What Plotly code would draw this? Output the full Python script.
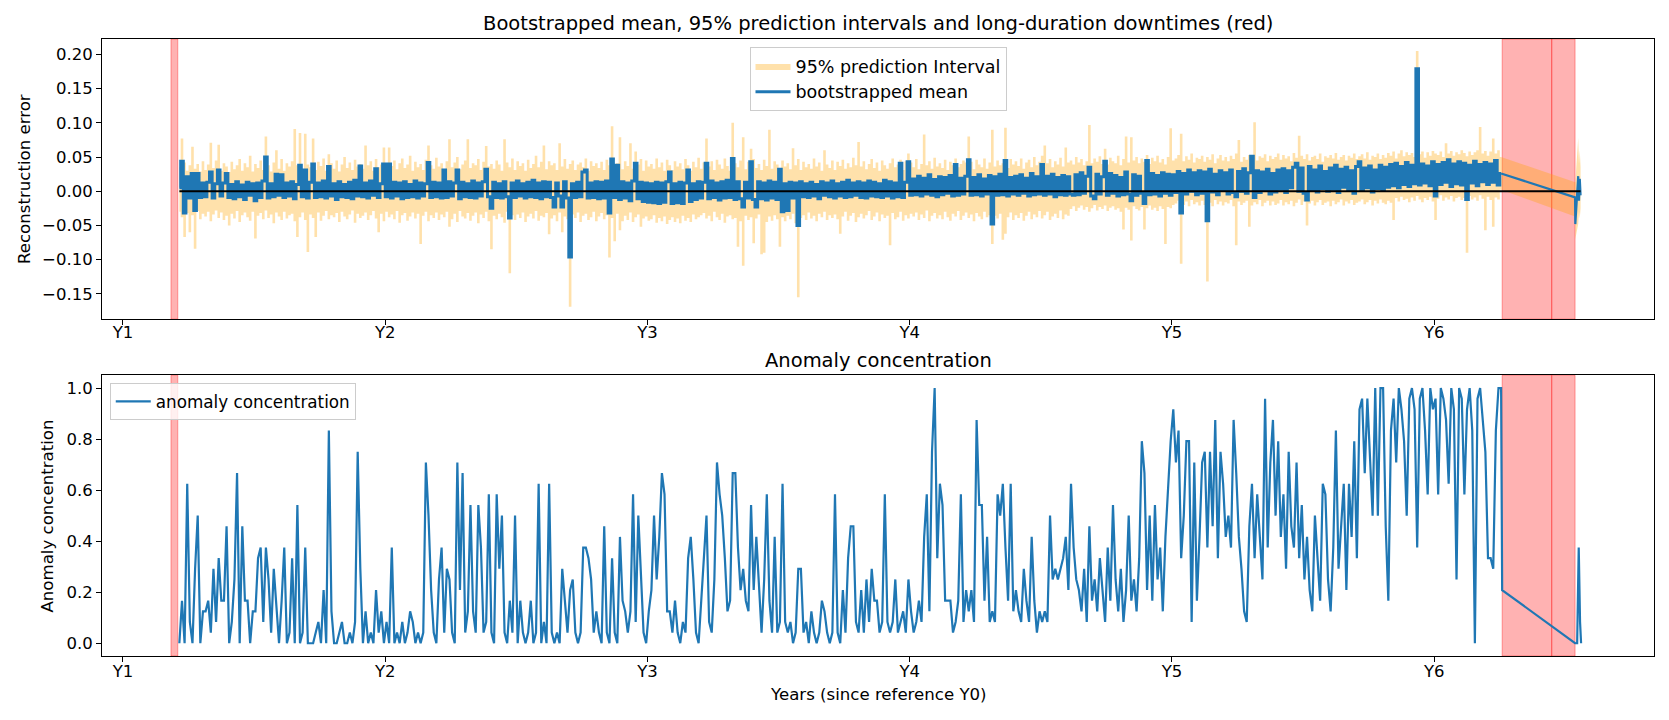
import numpy as np
import plotly.graph_objects as go

# ---------------- data ----------------
t_start = 1.215      # year of first sample
t_step = 0.01        # sampling step (years)

# bootstrapped mean, in thousandths
mean_milli = [
5,44,-32,21,-10,26,-28,26,-9,12,
-8,13,28,-10,11,31,-7,12,26,-9,
10,-11,14,-8,9,-12,13,-6,11,-14,
12,-9,15,50,-10,11,-8,25,-6,24,
-9,12,-7,14,-11,10,38,-8,31,-10,
13,40,-9,12,-8,15,-10,36,-7,11,
-12,14,-8,10,-9,13,-11,16,-7,37,
-8,12,-10,15,-6,33,-9,11,40,-8,
40,-10,13,-7,12,-11,14,-9,10,-8,
15,-10,12,-7,11,42,-9,13,-8,12,
-10,31,-9,14,-7,12,31,-11,13,-8,
11,-9,15,-10,12,-7,14,32,-8,-25,
13,-9,11,-10,14,-8,-39,12,-9,15,
-7,11,-10,13,-8,16,-9,12,-11,14,
-8,13,-9,-23,12,-7,-23,14,-10,-96,
11,-9,13,-8,28,31,-10,12,-9,14,
-11,13,-10,15,-32,47,-9,38,-12,14,
-10,12,-14,15,41,-11,13,-15,12,-16,
11,-17,13,-18,12,-16,14,28,-18,11,
-17,13,-18,12,31,-15,11,-12,14,-10,
13,41,-11,15,-9,12,-13,14,-10,16,
-9,48,-12,14,-11,-23,13,-10,43,-12,
-23,14,-11,12,-13,15,-10,13,-12,32,
-30,11,-28,13,-10,12,-50,14,-8,11,
-9,13,-7,10,-11,14,-6,12,-8,15,
-10,11,-7,13,-9,16,-8,12,-6,14,
-9,12,-10,15,-7,13,-8,11,-9,16,
-7,14,-10,12,-8,41,-9,13,43,-6,
18,-5,22,-7,19,-4,24,-6,17,-8,
21,-5,20,-3,23,-7,39,-6,19,-4,
22,46,-6,20,-5,24,-7,18,-4,23,
-48,21,-6,25,-5,45,-7,20,-4,22,
-6,24,-3,19,-7,26,-5,21,-4,39,
-6,22,-4,25,-8,20,-5,23,-6,21,
-4,-6,24,-5,27,-3,22,35,-7,-11,
25,-4,21,44,-6,26,-3,23,-7,20,
-5,28,-4,-14,24,-6,22,-3,-18,45,
-5,26,-4,23,-7,27,-3,25,-6,24,
-2,29,-32,26,-4,31,0,27,-5,30,
-3,28,-43,32,-1,25,-5,30,1,27,
-4,31,-2,-8,29,0,33,-3,27,51,
-9,30,-2,28,1,32,-4,26,-1,31,
3,33,-2,30,5,35,41,0,34,-3,
-13,36,2,31,-1,37,4,29,0,34,
3,38,-2,32,6,35,1,30,-3,36,
43,2,34,5,37,-1,31,4,38,1,
35,6,39,8,41,5,36,10,42,7,
38,11,179,9,40,12,37,8,43,-7,
39,10,42,13,46,7,40,11,43,9,
41,-12,38,12,44,8,39,14,42,10,
40,13,45,9,26]

# upper bound of the 95% prediction interval, in thousandths
upper_milli = [
35,77,42,30,38,65,33,40,29,44,
31,39,71,34,45,68,30,41,36,28,
43,32,38,47,30,41,35,52,29,40,
34,45,31,80,38,29,42,60,33,47,
30,41,36,44,91,38,85,32,84,39,
35,77,31,43,37,48,30,54,41,33,
45,29,39,50,34,42,31,46,36,40,
33,67,38,44,30,47,35,39,64,31,
64,37,45,32,41,48,34,39,52,30,
43,35,40,31,46,67,38,33,49,36,
41,30,44,76,35,42,50,32,39,45,
76,34,41,38,47,31,43,66,36,40,
33,45,39,30,76,42,35,48,31,44,
37,41,30,46,34,40,52,35,43,67,
32,44,38,41,31,70,36,47,33,40,
45,31,39,42,35,48,30,44,37,41,
34,43,31,46,38,95,35,41,79,32,
44,37,70,33,58,39,47,30,45,36,
40,33,48,35,42,30,46,38,31,44,
36,41,32,47,38,30,43,35,49,33,
42,77,36,44,31,46,39,33,48,37,
30,100,41,35,45,79,32,43,62,47,
34,40,31,46,37,90,33,44,39,30,
45,36,41,32,63,38,47,31,43,35,
40,33,48,36,42,30,60,39,34,45,
31,43,37,46,33,41,35,49,38,72,
36,44,32,40,47,34,42,30,45,38,
33,41,48,35,39,46,31,44,55,42,
35,47,32,40,83,38,44,33,49,36,
41,34,46,31,43,38,48,35,40,45,
42,80,43,32,46,39,35,48,33,42,
90,36,45,38,41,93,34,47,39,44,
37,48,33,42,46,35,50,38,43,52,
67,41,47,35,44,39,49,36,64,42,
45,39,50,42,47,38,44,97,41,48,
43,51,40,62,39,49,44,41,52,38,
47,80,42,79,45,50,41,48,43,53,
40,49,44,52,42,47,39,50,92,45,
48,53,84,44,51,46,55,42,49,47,
52,43,50,46,54,41,48,53,45,50,
44,52,47,55,75,43,50,46,53,48,
101,45,51,49,54,44,52,47,50,55,
46,53,48,51,44,56,49,81,52,47,
54,45,50,52,47,55,43,51,49,53,
48,56,46,50,53,45,52,49,55,47,
51,54,48,57,46,52,50,55,47,53,
49,56,52,58,48,55,60,51,57,53,
56,50,205,54,58,49,57,52,59,55,
53,58,50,70,55,59,52,57,54,60,
56,51,58,53,57,60,94,55,59,52,
58,77,55,60,50]

# lower bound of the 95% prediction interval, in thousandths
lower_milli = [
-30,-38,-67,-32,-60,-35,-84,-29,-41,-33,
-37,-30,-44,-34,-28,-39,-31,-42,-36,-50,
-33,-40,-29,-45,-35,-31,-38,-43,-30,-69,
-36,-32,-41,-28,-39,-34,-47,-31,-37,-42,
-30,-40,-35,-33,-44,-67,-38,-31,-42,-89,
-34,-39,-67,-31,-43,-36,-29,-41,-35,-38,
-32,-45,-30,-37,-41,-34,-28,-46,-33,-39,
-36,-31,-42,-35,-29,-40,-60,-33,-44,-30,
-38,-34,-41,-29,-46,-35,-32,-43,-37,-31,
-40,-33,-77,-36,-30,-44,-35,-39,-31,-42,
-34,-38,-30,-52,-41,-33,-45,-29,-37,-40,
-32,-43,-36,-31,-47,-34,-39,-30,-44,-85,
-36,-41,-33,-38,-46,-30,-120,-35,-42,-34,
-39,-31,-45,-37,-33,-40,-29,-43,-36,-38,
-32,-63,-40,-35,-44,-31,-60,-37,-41,-169,
-34,-39,-31,-45,-36,-33,-42,-38,-30,-44,
-37,-32,-41,-35,-97,-39,-73,-33,-57,-44,
-36,-42,-31,-45,-38,-34,-52,-40,-37,-43,
-41,-35,-46,-39,-44,-37,-48,-42,-38,-45,
-40,-47,-36,-43,-39,-45,-34,-41,-38,-35,
-32,-40,-36,-44,-30,-38,-42,-33,-46,-37,
-35,-41,-39,-81,-44,-109,-36,-42,-38,-76,
-40,-34,-92,-90,-45,-37,-43,-35,-41,-81,
-38,-44,-36,-41,-33,-47,-155,-39,-35,-42,
-31,-40,-36,-44,-33,-38,-30,-42,-35,-39,
-34,-41,-62,-37,-30,-43,-36,-32,-45,-38,
-33,-40,-35,-29,-42,-37,-31,-44,-34,-39,
-36,-79,-32,-41,-38,-30,-43,-35,-40,-33,
-37,-31,-42,-34,-39,-28,-44,-36,-32,-40,
-35,-41,-30,-38,-43,-33,-37,-29,-42,-36,
-31,-39,-34,-44,-32,-37,-41,-30,-38,-35,
-77,-36,-40,-33,-71,-62,-38,-31,-42,-35,
-39,-32,-43,-36,-30,-41,-34,-38,-29,-40,
-35,-30,-42,-37,-33,-39,-28,-41,-34,-36,
-26,-22,-29,-24,-21,-27,-23,-30,-25,-20,
-28,-23,-26,-21,-29,-24,-22,-27,-25,-30,
-56,-24,-27,-72,-22,-26,-28,-23,-56,-25,
-21,-27,-24,-29,-22,-26,-77,-23,-25,-20,
-18,-14,-106,-20,-15,-22,-13,-19,-16,-21,
-14,-20,-132,-17,-22,-13,-19,-15,-21,-16,
-18,-13,-22,-79,-15,-20,-17,-14,-52,-21,
-16,-19,-13,-22,-17,-14,-21,-15,-20,-18,
-13,-21,-16,-19,-14,-22,-17,-12,-20,-15,
-50,-18,-14,-21,-16,-13,-20,-17,-15,-22,
-14,-19,-16,-12,-21,-15,-18,-13,-20,-17,
-15,-12,-19,-16,-13,-21,-14,-18,-12,-17,
-19,-14,-17,-42,-10,-15,-8,-13,-11,-16,
-9,-14,-7,-12,-16,-10,-13,-8,-15,-42,
-11,-6,-14,-9,-12,-7,-15,-10,-8,-13,
-10,-90,-7,-12,-9,-14,-6,-11,-57,-8,
-13,-52,-9,-12,2]

# samples after the long downtime (years, thousandths)
tail_years = [6.537, 6.538, 6.549, 6.552, 6.555, 6.558]
tail_mean_milli = [-9, -48, 22, -14, 18, -6]
tail_upper_milli = [13, 13, 78, 40, 60, 35]
tail_lower_milli = [-37, -70, -48, -30, -40, -25]

# anomaly concentration, in 24ths
anomaly_24ths = [
0,4,0,15,2,0,7,12,0,3,
3,4,1,7,2,8,4,4,11,0,
2,6,16,0,11,4,4,0,3,3,
8,9,2,9,6,1,7,3,0,4,
9,0,1,8,0,13,0,1,9,0,
0,0,1,2,0,5,0,20,3,0,
0,1,2,0,0,1,0,2,18,7,
0,3,0,1,0,5,1,3,0,2,
0,9,0,1,0,2,0,1,3,2,
0,1,0,1,17,12,5,1,0,6,
9,1,7,6,1,0,17,5,16,1,
3,13,3,1,13,9,1,2,14,1,
0,14,7,12,1,0,4,1,12,0,
4,1,0,1,4,0,1,15,0,2,
0,15,1,0,1,0,7,4,1,5,
6,1,0,1,9,9,8,6,1,3,
1,0,11,1,0,8,1,0,10,4,
3,1,3,14,2,12,7,1,0,3,
5,12,6,10,16,14,3,3,1,4,
1,0,2,1,8,10,6,1,0,4,
7,12,2,1,6,17,14,12,8,3,
4,16,16,9,5,7,4,3,13,5,
10,5,1,6,14,4,1,10,1,2,
15,2,1,2,0,1,7,7,1,2,
0,3,1,0,1,4,3,1,0,1,
14,1,0,5,1,8,11,11,2,1,
5,1,6,2,7,4,4,1,2,14,
2,1,2,6,1,2,3,1,6,3,
1,2,4,2,10,14,3,18,24,8,
15,13,4,4,4,1,2,4,14,2,
5,3,5,2,21,13,13,4,10,2,
3,2,14,12,15,9,4,15,3,5,
3,2,7,4,2,10,4,1,3,2,
3,2,12,6,7,6,7,8,10,5,
15,9,6,5,3,7,2,11,4,6,
3,8,5,2,9,4,13,6,3,7,
2,5,12,4,6,3,8,19,16,5,
12,4,13,6,9,3,10,15,19,22,
17,20,8,12,19,19,2,17,4,10,
17,18,9,18,11,21,8,18,15,10,
12,9,21,16,10,7,3,2,11,15,
8,14,10,6,23,9,17,21,12,19,
10,14,7,18,11,9,17,8,13,6,
10,5,3,12,8,4,15,14,6,3,
9,20,7,11,15,5,15,10,19,8,
22,23,16,23,18,12,24,12,24,24,
11,4,20,23,17,24,22,19,12,23,
24,22,9,23,24,20,14,24,22,23,
14,24,23,21,15,24,22,6,24,23,
14,22,24,20,0,23,24,21,18,8,
8,7,20,24,24]
tail_conc_years = [6.259, 6.537, 6.545, 6.551, 6.556, 6.560]
tail_conc_24ths = [5, 0, 0, 9, 2, 0]

# long-duration downtimes (years)
downtime_start = [1.183, 6.259, 6.448]
downtime_end = [1.209, 6.448, 6.537]

tick_years = [1, 2, 3, 4, 5, 6]
tick_labels = ["Y1", "Y2", "Y3", "Y4", "Y5", "Y6"]
err_ticks = [-0.15, -0.10, -0.05, 0.0, 0.05, 0.10, 0.15, 0.20]
conc_ticks = [0.0, 0.2, 0.4, 0.6, 0.8, 1.0]

assert len(mean_milli) == len(upper_milli) == len(lower_milli) == len(anomaly_24ths)

# ---------------- derived series ----------------
n = len(mean_milli)
t = t_start + t_step * np.arange(n)
mean = np.array(mean_milli) / 1000.0
upper = np.array(upper_milli) / 1000.0
lower = np.array(lower_milli) / 1000.0
conc = np.array(anomaly_24ths) / 24.0

# after-gap pieces start from the last dense sample (straight bridge across the downtime)
x_tail = np.concatenate([[t[-1]], tail_years])
mean_tail = np.concatenate([[mean[-1]], np.array(tail_mean_milli) / 1000.0])
upper_tail = np.concatenate([[upper[-1]], np.array(tail_upper_milli) / 1000.0])
lower_tail = np.concatenate([[lower[-1]], np.array(tail_lower_milli) / 1000.0])
x_conc = np.concatenate([t, tail_conc_years])
conc_full = np.concatenate([conc, np.array(tail_conc_24ths) / 24.0])

FONT = "DejaVu Sans"
BLUE = "#1f77b4"
ORANGE_FILL = "rgba(255,165,0,0.33)"
NOLINE = dict(width=0, color="rgba(255,165,0,0)")

fig = go.Figure()
# prediction interval: dense part (stepped, like thin vertical strokes) and after-gap part
fig.add_trace(go.Scatter(x=t, y=lower, mode="lines", line=dict(shape="hvh", **NOLINE),
                         showlegend=False, hoverinfo="skip"))
fig.add_trace(go.Scatter(x=t, y=upper, mode="lines", line=dict(shape="hvh", **NOLINE),
                         fill="tonexty", fillcolor=ORANGE_FILL, name="95% prediction Interval",
                         legend="legend", legendgroup="pi"))
fig.add_trace(go.Scatter(x=x_tail, y=lower_tail, mode="lines", line=NOLINE, showlegend=False, hoverinfo="skip"))
fig.add_trace(go.Scatter(x=x_tail, y=upper_tail, mode="lines", line=NOLINE, fill="tonexty",
                         fillcolor=ORANGE_FILL, showlegend=False, legendgroup="pi"))
# bootstrapped mean (dense part drawn as vertical strokes, bridge across the downtime straight)
fig.add_trace(go.Scatter(x=t, y=mean, mode="lines", line=dict(width=3.0, color=BLUE, shape="hvh"),
                         name="bootstrapped mean", legend="legend", legendgroup="bm"))
fig.add_trace(go.Scatter(x=x_tail, y=mean_tail, mode="lines", line=dict(width=2.2, color=BLUE),
                         showlegend=False, legendgroup="bm"))
# zero reference line
fig.add_trace(go.Scatter(x=[t[0], x_tail[-1]], y=[0, 0], mode="lines", line=dict(width=2.2, color="black"),
                         showlegend=False))
# anomaly concentration
fig.add_trace(go.Scatter(x=x_conc, y=conc_full, mode="lines", line=dict(width=2.2, color=BLUE),
                         name="anomaly concentration", legend="legend2", xaxis="x2", yaxis="y2"))

shapes = []
for s, e in zip(downtime_start, downtime_end):
    for xr, yr in (("x", "y domain"), ("x2", "y2 domain")):
        shapes.append(dict(type="rect", xref=xr, yref=yr, x0=s, x1=e, y0=0, y1=1,
                           fillcolor="rgba(255,0,0,0.3)", line=dict(color="rgba(255,0,0,0.35)", width=1),
                           layer="below"))

axis_common = dict(showline=True, mirror=True, linecolor="black", linewidth=1, ticks="outside",
                   ticklen=5, tickwidth=1, tickcolor="black", showgrid=False, zeroline=False,
                   tickfont=dict(family=FONT, size=16.5, color="black"))
x_range = [0.92, 6.838]

fig.update_layout(
    width=1653, height=704,
    margin=dict(l=94, r=7, t=31, b=56),
    plot_bgcolor="white", paper_bgcolor="white",
    font=dict(family=FONT, size=16.5, color="black"),
    shapes=shapes,
    xaxis=dict(domain=[0, 1], anchor="y", range=x_range, tickvals=tick_years, ticktext=tick_labels,
               ticklabelstandoff=-7, **axis_common),
    yaxis=dict(domain=[0.546, 1], anchor="x", range=[-0.187, 0.2226], tickvals=err_ticks,
               ticktext=[("\u2212" if v < 0 else "") + f"{abs(v):.2f}" for v in err_ticks], **axis_common),
    xaxis2=dict(domain=[0, 1], anchor="y2", range=x_range, tickvals=tick_years, ticktext=tick_labels,
                ticklabelstandoff=-5, **axis_common),
    yaxis2=dict(domain=[0, 0.455], anchor="x2", range=[-0.05, 1.05], tickvals=conc_ticks,
                ticktext=[f"{v:.1f}" for v in conc_ticks], **axis_common),
    legend=dict(x=0.5, y=0.987, xanchor="center", yanchor="top", bgcolor="rgba(255,255,255,0.8)",
                bordercolor="#cccccc", borderwidth=1, font=dict(family=FONT, size=17.5, color="black"),
                itemwidth=35, traceorder="normal", tracegroupgap=0),
    legend2=dict(x=0.005, y=0.4425, xanchor="left", yanchor="top", bgcolor="rgba(255,255,255,0.8)",
                 bordercolor="#cccccc", borderwidth=1, font=dict(family=FONT, size=16.8, color="black"),
                 itemwidth=35),
    annotations=[
        dict(text="Bootstrapped mean, 95% prediction intervals and long-duration downtimes (red)",
             xref="paper", yref="paper", x=0.5, y=1.025, xanchor="center", yanchor="middle",
             showarrow=False, font=dict(family=FONT, size=19.5, color="black")),
        dict(text="Anomaly concentration", xref="paper", yref="paper", x=0.5, y=0.4797,
             xanchor="center", yanchor="middle", showarrow=False, font=dict(family=FONT, size=19.5, color="black")),
        dict(text="Reconstruction error", xref="paper", yref="paper", x=-0.0503, y=0.773, textangle=-90,
             xanchor="center", yanchor="middle", showarrow=False, font=dict(family=FONT, size=16.6, color="black")),
        dict(text="Anomaly concentration", xref="paper", yref="paper", x=-0.0348, y=0.2277, textangle=-90,
             xanchor="center", yanchor="middle", showarrow=False, font=dict(family=FONT, size=16.6, color="black")),
        dict(text="Years (since reference Y0)", xref="paper", yref="paper", x=0.5, y=-0.0632,
             xanchor="center", yanchor="middle", showarrow=False, font=dict(family=FONT, size=16.6, color="black")),
    ],
)

fig.write_html("out.html")
